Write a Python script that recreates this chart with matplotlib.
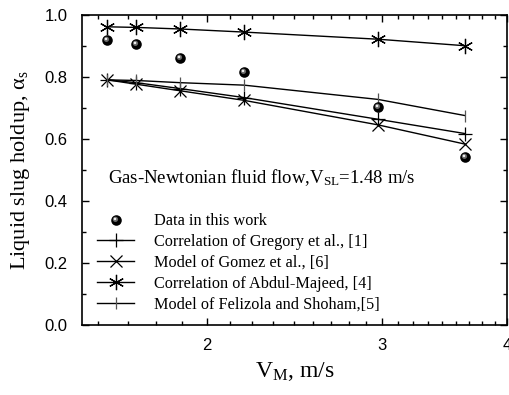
import numpy as np
import matplotlib
matplotlib.use("Agg")
import matplotlib.pyplot as plt
from matplotlib.path import Path
from matplotlib.legend_handler import HandlerTuple
from matplotlib.ticker import FixedLocator, NullFormatter, FixedFormatter, FormatStrFormatter

# Mixture velocity V_M (m/s)
vm = [1.59, 1.70, 1.88, 2.18, 2.97, 3.63]

# Liquid slug holdup
data_this_work = [0.918, 0.906, 0.861, 0.816, 0.703, 0.542]
gregory = [0.790, 0.781, 0.762, 0.733, 0.663, 0.617]
gomez = [0.790, 0.776, 0.755, 0.724, 0.645, 0.583]
abdul_majeed = [0.961, 0.959, 0.954, 0.944, 0.921, 0.900]
felizola = [0.790, 0.788, 0.781, 0.773, 0.727, 0.675]

x_major = [2, 3, 4]
x_major_labels = ["2", "3", "4"]

SERIF = "Liberation Serif"
SANS = "Liberation Sans"

plt.rcParams["font.family"] = SANS
plt.rcParams["mathtext.fontset"] = "custom"
plt.rcParams["mathtext.rm"] = SERIF
plt.rcParams["mathtext.it"] = SERIF + ":italic"

fig = plt.figure(figsize=(5.09, 3.95), dpi=100)
ax = fig.add_axes([0.161, 0.1772, 0.835, 0.7856])


def offset_disc(cx, cy, r):
    """A small disc placed off-centre inside a unit marker box."""
    circ = Path.circle(center=(cx, cy), radius=r)
    pad = Path([[1.0, 1.0], [-1.0, -1.0]], [Path.MOVETO, Path.MOVETO])
    return Path.make_compound_path(circ, pad)


glow = offset_disc(-0.20, 0.22, 0.50)
spot = offset_disc(-0.28, 0.30, 0.24)

ms_ball = 7.6
ball = ax.plot(vm, data_this_work, ls="none", marker="o", ms=ms_ball,
               mfc="black", mec="black", mew=0, zorder=5)[0]
ball_glow = ax.plot(vm, data_this_work, ls="none", marker=glow, ms=ms_ball,
                    mfc="#6a6a6a", mec="none", mew=0, zorder=6)[0]
ball_spot = ax.plot(vm, data_this_work, ls="none", marker=spot, ms=ms_ball,
                    mfc="#f0f0f0", mec="none", mew=0, zorder=7)[0]

lw = 1.0
h_greg = ax.plot(vm, gregory, color="black", lw=lw, marker="+", ms=10,
                 mew=0.9, zorder=3)[0]
h_gomez = ax.plot(vm, gomez, color="black", lw=lw, marker="x", ms=8,
                  mew=0.9, zorder=3)[0]
h_abdul = ax.plot(vm, abdul_majeed, color="black", lw=lw, marker=(6, 2, 0),
                  ms=11, mew=0.9, zorder=3)[0]
h_feliz = ax.plot(vm, felizola, color="black", lw=lw, marker="|", ms=9,
                  mew=0.9, mec="#555555", zorder=3)[0]

ax.set_xscale("log")
ax.set_xlim(1.5, 4)
ax.set_ylim(0.0, 1.0)

minor_x = []
for base in (1, 2, 3):
    for k in range(1, 9):
        v = base + k / 9
        if 1.5 < v < 4:
            minor_x.append(v)
ax.xaxis.set_major_locator(FixedLocator(x_major))
ax.xaxis.set_major_formatter(FixedFormatter(x_major_labels))
ax.xaxis.set_minor_locator(FixedLocator(minor_x))
ax.xaxis.set_minor_formatter(NullFormatter())
ax.set_yticks(np.arange(0.0, 1.01, 0.2))
ax.set_yticks(np.arange(0.1, 1.0, 0.2), minor=True)
ax.yaxis.set_major_formatter(FormatStrFormatter("%.1f"))

ax.tick_params(which="both", direction="in", top=True, right=True,
               labelsize=12, width=1.0)
ax.tick_params(axis="x", pad=9.5)
ax.tick_params(axis="y", pad=10.5)
ax.tick_params(which="major", length=5)
ax.tick_params(which="minor", length=3)
for sp in ax.spines.values():
    sp.set_linewidth(1.2)

ax.set_xlabel(r"V$_{\mathrm{M}}$, m/s", fontfamily=SERIF, fontsize=17,
              labelpad=5)
ax.set_ylabel(r"Liquid slug holdup, $\mathrm{\alpha_s}$", fontfamily=SERIF,
              fontsize=16, labelpad=9)

ax.text(0.061, 0.474, r"Gas-Newtonian fluid flow,V$_{\mathrm{SL}}$=1.48 m/s",
        transform=ax.transAxes, fontfamily=SERIF, fontsize=13.5,
        ha="left", va="center")

handles = [(ball, ball_glow, ball_spot), h_greg, h_gomez, h_abdul, h_feliz]
labels = ["Data in this work",
          "Correlation of Gregory et al., [1]",
          "Model of Gomez et al., [6]",
          "Correlation of Abdul-Majeed, [4]",
          "Model of Felizola and Shoham,[5]"]
leg = ax.legend(handles, labels, loc="center left",
                bbox_to_anchor=(0.035, 0.20), frameon=False,
                prop={"family": SERIF, "size": 11.7},
                handlelength=2.3, handletextpad=1.2, labelspacing=0.3,
                borderpad=0, borderaxespad=0,
                handler_map={tuple: HandlerTuple(ndivide=1, pad=0)})

fig.savefig("out.png", dpi=100)
